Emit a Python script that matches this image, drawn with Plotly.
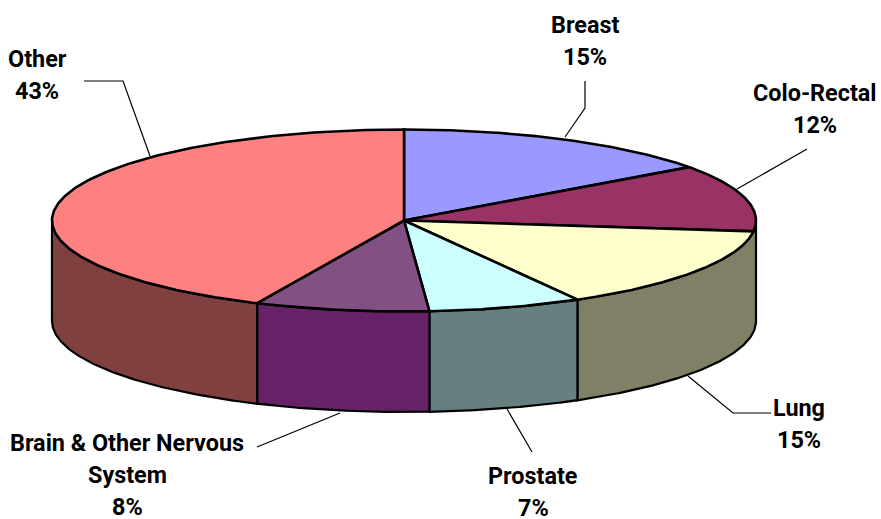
import numpy as np
import plotly.graph_objects as go

categories = ["Breast", "Colo-Rectal", "Lung", "Prostate", "Brain & Other Nervous System", "Other"]
values = [15, 11.9, 14.9, 7.05, 8, 43.15]
top_colors = ["#9999FF", "#993366", "#FFFFCC", "#CCFFFF", "#825082", "#FF8080"]
wall_colors = ["#4C4C80", "#4C1933", "#808066", "#668080", "#662266", "#804040"]

# label text: lines, centre x, first-line centre y
label_lines = [["Breast"], ["Colo-Rectal"], ["Lung"], ["Prostate"], ["Brain & Other Nervous", "System"], ["Other"]]
label_x = [585, 815, 799, 533, 127, 37]
label_y = [25, 93, 408, 476, 443, 59]
line_step = 32

leader_x = [[585, 585, 565], [807, 737], [771, 733, 688], [532, 507], [257, 340], [84, 123, 150]]
leader_y = [[81, 108, 137], [149, 189], [413, 413, 376], [452, 409], [447, 413], [81, 81, 156]]

CX, CY, RX, RY, DEPTH = 404, 220.5, 352, 91, 100.5
W, H = 881, 519

def rim(t):
    t = np.asarray(t)
    return CX + RX * np.sin(t), CY - RY * np.cos(t)

fracs = np.array(values, dtype=float) / sum(values)
edges = np.concatenate([[0], np.cumsum(fracs)]) * 2 * np.pi

fig = go.Figure()
common = dict(mode="lines", hoverinfo="skip", showlegend=False)

# walls (front half only); a sliver of wall just past the right extreme merges into the next slice
carry = None
for i in range(len(values)):
    a, b = max(edges[i], np.pi / 2), min(edges[i + 1], 3 * np.pi / 2)
    if b <= a:
        continue
    if b - a < np.radians(10):
        carry = a
        continue
    if carry is not None:
        a, carry = carry, None
    t = np.linspace(a, b, 120)
    x, y = rim(t)
    px = np.concatenate([x, x[::-1], x[:1]])
    py = np.concatenate([y, y[::-1] + DEPTH, y[:1]])
    fig.add_trace(go.Scatter(x=px, y=py, fill="toself", fillcolor=wall_colors[i],
                             line=dict(color="black", width=2.2), **common))

# top face
for i in range(len(values)):
    t = np.linspace(edges[i], edges[i + 1], 200)
    x, y = rim(t)
    px = np.concatenate([[CX], x, [CX]])
    py = np.concatenate([[CY], y, [CY]])
    fig.add_trace(go.Scatter(x=px, y=py, fill="toself", fillcolor=top_colors[i],
                             line=dict(color="black", width=2.6), **common))

# leader lines
for lx, ly in zip(leader_x, leader_y):
    fig.add_trace(go.Scatter(x=lx, y=ly, line=dict(color="black", width=1.2), **common))

# labels
font = dict(family="Roboto, Liberation Sans, sans-serif", size=23.4, color="black")
for lines, v, x0, y0 in zip(label_lines, values, label_x, label_y):
    for k, s in enumerate(lines + [f"{round(v)}%"]):
        fig.add_annotation(x=x0, y=y0 + k * line_step, text=f"<b>{s}</b>", showarrow=False,
                           xanchor="center", yanchor="middle", font=font)

fig.update_layout(
    width=W, height=H, margin=dict(l=0, r=0, t=0, b=0),
    paper_bgcolor="white", plot_bgcolor="white",
    xaxis=dict(range=[0, W], visible=False, fixedrange=True),
    yaxis=dict(range=[H, 0], visible=False, fixedrange=True),
)
fig.write_html("out.html", config=dict(displayModeBar=False),
               post_script="document.body.style.margin='0';document.body.style.overflow='hidden';")
